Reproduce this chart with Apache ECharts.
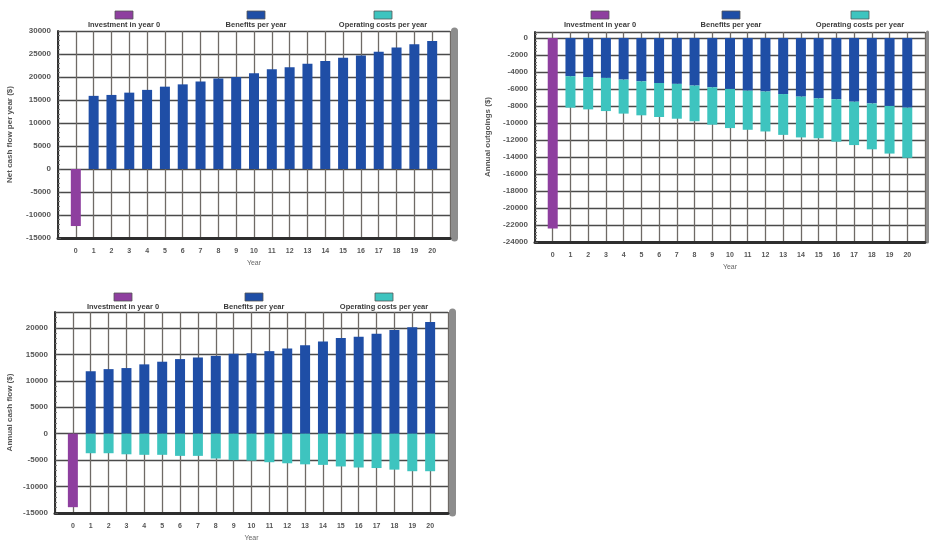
<!DOCTYPE html>
<html>
<head>
<meta charset="utf-8">
<script src="https://cdn.jsdelivr.net/npm/echarts@6/dist/echarts.min.js"></script>
<style>
  html, body { margin: 0; padding: 0; background: #ffffff; }
  #chart { width: 930px; height: 543px; }
</style>
</head>
<body>
<div id="chart"></div>
<script>
// ---- data -------------------------------------------------------------
const years = ['0', '1', '2', '3', '4', '5', '6', '7', '8', '9', '10',
               '11', '12', '13', '14', '15', '16', '17', '18', '19', '20'];
const seriesNames = ['Investment in year 0', 'Benefits per year', 'Operating costs per year'];
const xAxisName = 'Year';

// Panel A: investment and yearly benefits
const investA = -12400;
const benefitA = [15900, 16100, 16600, 17200, 17900, 18400, 19000, 19700, 20000, 20800,
                  21700, 22100, 22900, 23500, 24200, 24700, 25500, 26400, 27100, 27800];
const yNameA = 'Net cash flow per year ($)';
const yRangeA = [-15000, 30000, 5000];

// Panel B: investment and yearly outgoings
const investB = -22400;
const benefitB = [-4500, -4600, -4700, -4900, -5100, -5300, -5400, -5600, -5800, -6000,
                  -6200, -6300, -6600, -6900, -7100, -7200, -7500, -7700, -8000, -8200];
const costB = [-3700, -3800, -3900, -4000, -4000, -4000, -4100, -4200, -4400, -4600,
               -4600, -4700, -4800, -4800, -4700, -5000, -5100, -5400, -5600, -5900];
const yNameB = 'Annual outgoings ($)';
const yRangeB = [-24000, 700, 2000];

// Panel C: investment, benefits and operating costs
const investC = -13900;
const benefitC = [11800, 12200, 12400, 13100, 13600, 14100, 14400, 14700, 15100, 15200,
                  15600, 16100, 16700, 17400, 18100, 18300, 18900, 19600, 20100, 21100];
const costC = [-3700, -3700, -3900, -4000, -4000, -4200, -4200, -4700, -5000, -5100,
               -5400, -5600, -5800, -5900, -6200, -6400, -6500, -6800, -7100, -7100];
const yNameC = 'Annual cash flow ($)';
const yRangeC = [-15000, 23000, 5000];

// ---- styling ----------------------------------------------------------
const COLORS = ['#8e3f9f', '#1f4ea6', '#3ec4bf'];
const FONT = '"Liberation Sans", Arial, sans-serif';

// panel placement: plot rectangle, y-name gap, legend row, frame edge width
const panels = [
  { left: 58,  top: 31,  width: 392, height: 207, nameGap: 44, legendY: 15,  edge: 7 },
  { left: 535, top: 32,  width: 390, height: 210, nameGap: 43, legendY: 15,  edge: 3 },
  { left: 55,  top: 312, width: 393, height: 204, nameGap: 41, legendY: 297, edge: 7 }
];
const legendX = [[124, 256, 383], [600, 731, 860], [123, 254, 384]];

const panelData = [
  { invest: investA, benefit: benefitA, cost: null,  yName: yNameA, range: yRangeA },
  { invest: investB, benefit: benefitB, cost: costB, yName: yNameB, range: yRangeB },
  { invest: investC, benefit: benefitC, cost: costC, yName: yNameC, range: yRangeC }
];

// one empty slot on each side of the year axis so the grid starts and ends
// half a step beyond the outer bars, with grid lines through every bar
const axisCats = [''].concat(years, ['']);
const pad = arr => [null].concat(arr, [null]);

const grids = [], xAxes = [], yAxes = [], yEdges = [], series = [], graphics = [];

panelData.forEach((pd, g) => {
  const p = panels[g];
  const [yMin, yMax, step] = pd.range;

  grids.push({ left: p.left, top: p.top, width: p.width, height: p.height, containLabel: false });

  xAxes.push({
    gridIndex: g, type: 'category', data: axisCats, boundaryGap: false,
    name: xAxisName, nameLocation: 'middle', nameGap: 22,
    nameTextStyle: { fontSize: 7, color: '#666', fontFamily: FONT },
    axisLine: { onZero: false, lineStyle: { color: '#2e2e2e', width: 3 } },
    axisTick: { show: false },
    axisLabel: { interval: 0, fontSize: 7, color: '#555', fontWeight: 'bold', margin: 10, fontFamily: FONT },
    splitLine: { show: true, interval: 0, lineStyle: { color: '#6f6a66', width: 1.3 } }
  });

  yAxes.push({
    gridIndex: g, type: 'value', min: yMin, max: yMax, interval: step,
    name: pd.yName, nameLocation: 'middle', nameGap: p.nameGap, nameRotate: 90,
    nameTextStyle: { fontSize: 8, fontWeight: 'bold', color: '#555', fontFamily: FONT },
    axisLine: { show: true, onZero: false, lineStyle: { color: '#333', width: 2 } },
    axisTick: { show: true, inside: true, length: 3, lineStyle: { color: '#555' } },
    minorTick: { show: true, splitNumber: 5, length: 2, lineStyle: { color: '#777' } },
    axisLabel: {
      fontSize: 8, fontWeight: 'bold', color: '#555', margin: 7, fontFamily: FONT,
      formatter: v => (v % step === 0) ? String(v) : ''
    },
    splitLine: { show: true, lineStyle: { color: '#4a4a4a', width: 1.3 } }
  });

  // grey frame edge on the right of each plot
  yEdges.push({
    gridIndex: g, type: 'value', position: 'right', min: yMin, max: yMax, interval: step,
    offset: Math.round(p.edge / 2),
    axisLine: { show: true, onZero: false, lineStyle: { color: '#8d8d8d', width: p.edge } },
    axisTick: { show: false }, axisLabel: { show: false }, splitLine: { show: false }
  });

  const stack = 'panel' + g;
  const investData = pad(years.map((y, i) => (i === 0 ? pd.invest : null)));
  const benefitData = pad([null].concat(pd.benefit));
  const common = { type: 'bar', xAxisIndex: g, yAxisIndex: g, stack: stack, barWidth: 10, animation: false };

  series.push(Object.assign({ name: seriesNames[0], data: investData, itemStyle: { color: COLORS[0] } }, common));
  series.push(Object.assign({ name: seriesNames[1], data: benefitData, itemStyle: { color: COLORS[1] } }, common));
  if (pd.cost) {
    const costData = pad([null].concat(pd.cost));
    series.push(Object.assign({ name: seriesNames[2], data: costData, itemStyle: { color: COLORS[2] } }, common));
  }

  // legend: swatch above its caption
  seriesNames.forEach((nm, k) => {
    const cx = legendX[g][k];
    graphics.push({
      type: 'rect', shape: { x: cx - 9, y: p.legendY - 4, width: 18, height: 8 },
      style: { fill: COLORS[k], stroke: '#555', lineWidth: 0.8 }
    });
    graphics.push({
      type: 'text', x: cx, y: p.legendY + 10,
      style: {
        text: nm, fill: '#3a3a3a', fontSize: 7.5, fontWeight: 'bold', fontFamily: FONT,
        align: 'center', verticalAlign: 'middle'
      }
    });
  });
});

const chart = echarts.init(document.getElementById('chart'), null, { renderer: 'canvas' });
chart.setOption({
  backgroundColor: '#ffffff',
  animation: false,
  textStyle: { fontFamily: FONT },
  grid: grids,
  xAxis: xAxes,
  yAxis: yAxes.concat(yEdges),
  series: series,
  graphic: graphics
});
</script>
</body>
</html>
